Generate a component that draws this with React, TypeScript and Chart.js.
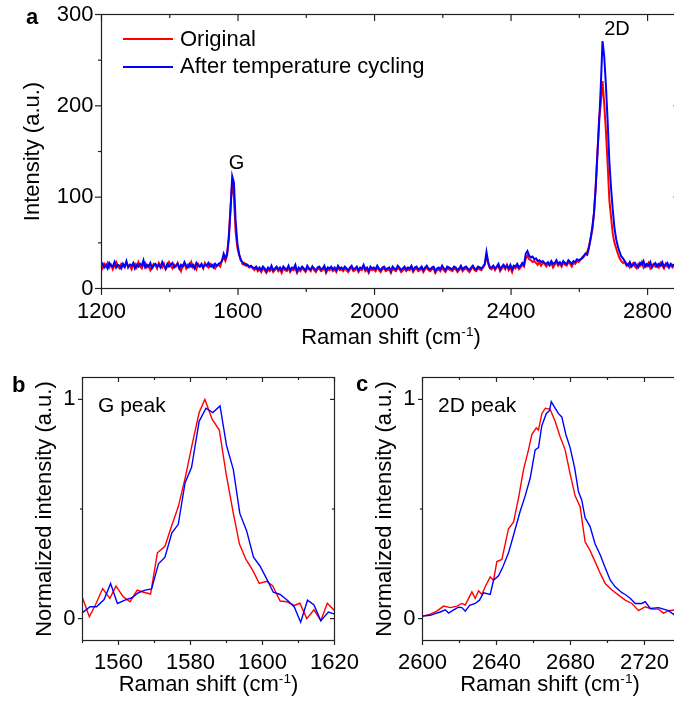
import React, { useEffect, useRef } from "react";
import { Chart, registerables } from "chart.js";

Chart.register(...registerables);

const FONT = '"Liberation Sans", Arial, Helvetica, sans-serif';
const RED = "#ff0000";
const BLUE = "#0000ff";
const AXIS = "#222222";

// ---------------- Panel a : full Raman spectrum ----------------
const A_X_START = 1198; // first sample (cm-1)
const A_X_STEP = 5; // sampling step (cm-1)
const A_X_MAJOR = [1200, 1600, 2000, 2400, 2800];
const A_X_MINOR = [1400, 1800, 2200, 2600];
const A_Y_MAJOR = [0, 100, 200, 300];
const A_Y_MINOR = [50, 150, 250];

// Original (red) – segments in spectral order
const origLowBase = [
  25, 22, 27, 24, 28, 23, 26, 21, 25, 29, 24, 22, 27, 25, 23, 28, 24, 26, 21, 25,
  27, 23, 29, 24, 22, 26, 28, 23, 25, 20, 24, 27, 26, 22, 28, 25, 23, 27, 21, 24,
  29, 25, 22, 26, 24, 28, 23, 19, 25, 27, 22, 26, 24, 29, 23, 25, 21, 27, 24, 26,
  22, 28, 25, 23, 27, 24, 26, 22, 25,
];
const origGBand = [26, 24, 31, 34, 30, 36, 58, 88, 118, 100, 62, 45, 37, 32, 27, 28, 25];
const origMidBase = [
  25, 23, 24, 22, 20, 23, 19, 21, 18, 22, 20, 17, 21, 19, 22, 18, 20, 23, 19, 21,
  17, 22, 20, 19, 23, 18, 21, 20, 22, 17, 21, 19, 23, 20, 18, 22, 21, 19, 24, 20,
  18, 21, 22, 19, 20, 23, 17, 21, 20, 22, 19, 21, 18, 23, 20, 21, 19, 22, 20, 18,
  21, 23, 19, 20, 22, 18, 21, 20, 24, 19, 21, 17, 22, 20, 21, 19, 23, 20, 18, 21,
  22, 19, 20, 21, 17, 22, 20, 19, 23, 21, 18, 20, 22, 19, 21, 20, 23, 18, 21, 22,
  19, 20, 22, 18, 21, 23, 20, 19, 21, 22, 17, 20, 21, 19, 23, 20, 18, 22, 21, 20,
  19, 22, 21, 18, 20, 23, 19, 21, 22, 20, 18, 21, 24, 20, 19, 22, 21, 20, 23,
];
const origSpike = [26, 36, 27, 22];
const origPreBump = [21, 24, 20, 23, 25, 19, 22, 24, 21, 26, 20, 23, 18, 24, 22, 25, 21, 23, 26, 24];
const origBump = [33, 36, 32, 31, 29, 30, 28, 26, 29, 25, 28, 27];
const origPre2D = [24, 27, 25, 28, 23, 26, 29, 25, 27, 24, 28, 26, 25, 29, 27, 24, 28, 27, 30, 29];
const orig2DBand = [
  31, 34, 36, 38, 40, 46, 54, 64, 82, 112, 147, 186, 203, 227, 202, 172, 136, 97, 78, 60,
  50, 44, 38, 33, 30, 28, 29,
];
const origHighBase = [
  25, 27, 23, 26, 28, 24, 22, 27, 25, 29, 23, 26, 24, 28, 22, 25, 27, 24, 26, 23,
  28, 25, 22, 27, 24, 26, 25, 23, 27,
];

// After temperature cycling (blue)
const cycLowBase = [
  24, 27, 23, 26, 22, 28, 25, 24, 29, 23, 26, 25, 22, 27, 24, 30, 23, 26, 25, 28,
  22, 26, 24, 27, 25, 31, 23, 26, 24, 28, 22, 25, 27, 24, 26, 23, 29, 25, 22, 27,
  24, 26, 28, 23, 25, 27, 22, 26, 24, 29, 25, 23, 27, 24, 26, 22, 28, 25, 24, 27,
  23, 26, 25, 28, 24, 26, 23, 27, 25,
];
const cycGBand = [27, 28, 30, 38, 33, 38, 54, 86, 123, 116, 74, 50, 38, 31, 29, 26, 27];
const cycMidBase = [
  26, 24, 25, 23, 22, 24, 21, 23, 20, 24, 22, 19, 23, 21, 25, 20, 22, 24, 21, 23,
  20, 24, 22, 21, 25, 20, 23, 22, 26, 19, 23, 21, 24, 22, 20, 25, 22, 21, 24, 22,
  20, 23, 24, 21, 22, 25, 19, 23, 22, 24, 21, 23, 20, 25, 22, 23, 21, 24, 22, 20,
  23, 25, 21, 22, 24, 20, 23, 22, 26, 21, 23, 19, 24, 22, 23, 21, 25, 22, 20, 23,
  24, 21, 22, 23, 19, 24, 22, 21, 25, 23, 20, 22, 24, 21, 23, 22, 25, 20, 23, 24,
  21, 22, 24, 20, 23, 25, 22, 21, 23, 24, 19, 22, 23, 21, 25, 22, 20, 24, 23, 22,
  21, 24, 23, 20, 22, 25, 21, 23, 24, 22, 20, 23, 25, 22, 21, 24, 23, 22, 24,
];
const cycSpike = [27, 40, 29, 23];
const cycPreBump = [23, 25, 22, 24, 27, 21, 24, 26, 23, 25, 22, 26, 21, 25, 24, 27, 23, 25, 28, 26];
const cycBump = [38, 41, 36, 34, 35, 32, 33, 30, 31, 29, 30, 28];
const cycPre2D = [27, 29, 26, 30, 27, 28, 31, 27, 29, 26, 30, 28, 27, 31, 29, 27, 30, 29, 32, 31];
const cyc2DBand = [
  32, 33, 35, 38, 37, 44, 55, 67, 83, 110, 147, 181, 222, 271, 254, 222, 183, 139, 110, 86,
  66, 54, 46, 40, 35, 33, 30,
];
const cycHighBase = [
  27, 25, 29, 24, 26, 28, 25, 23, 28, 26, 30, 24, 27, 25, 29, 23, 26, 28, 24, 27,
  25, 29, 24, 26, 28, 23, 27, 25, 26,
];

const ORIGINAL_A = [
  ...origLowBase, ...origGBand, ...origMidBase, ...origSpike, ...origPreBump,
  ...origBump, ...origPre2D, ...orig2DBand, ...origHighBase,
];
const CYCLED_A = [
  ...cycLowBase, ...cycGBand, ...cycMidBase, ...cycSpike, ...cycPreBump,
  ...cycBump, ...cycPre2D, ...cyc2DBand, ...cycHighBase,
];

// ---------------- Panel b : G peak (normalized) ----------------
const B_X_MAJOR = [1560, 1580, 1600, 1620];
const B_X_MINOR = [1550, 1570, 1590, 1610];
const NORM_Y_MAJOR = [0, 1];
const NORM_Y_MINOR = [0.5];

const gRedX = [
  1550, 1551.9, 1553.8, 1555.6, 1557.6, 1559.3, 1561.3, 1563.2, 1565.2, 1567,
  1568.9, 1570.8, 1572.9, 1574.7, 1576.6, 1578.5, 1580.4, 1582.4, 1584.0, 1586.0,
  1588.0, 1589.9, 1591.9, 1593.6, 1595.4, 1597.3, 1599.1, 1601.2, 1602.8, 1604.9,
  1606.7, 1608.8, 1610.4, 1612.3, 1614.3, 1616.2, 1618.0, 1620.1,
];
const gRedY = [
  0.095, 0.008, 0.07, 0.137, 0.092, 0.148, 0.1, 0.077, 0.13, 0.12,
  0.112, 0.3, 0.33, 0.42, 0.51, 0.64, 0.79, 0.94, 1.0, 0.91,
  0.86, 0.66, 0.48, 0.34, 0.27, 0.22, 0.16, 0.17, 0.15, 0.08,
  0.077, 0.06, 0.07, 0.0, 0.04, -0.01, 0.07, 0.035,
];
const gBlueX = [
  1550, 1552.1, 1553.9, 1556.0, 1557.8, 1559.7, 1561.8, 1563.7, 1565.5, 1567.4,
  1569.2, 1571.1, 1572.9, 1574.8, 1576.6, 1578.5, 1580.3, 1582.4, 1584.3, 1586.2,
  1588.2, 1590.0, 1591.9, 1593.7, 1595.6, 1597.5, 1599.3, 1601.2, 1603.0, 1604.9,
  1606.9, 1608.8, 1610.6, 1612.5, 1614.3, 1616.2, 1618.3, 1620.1,
];
const gBlueY = [
  0.027, 0.054, 0.054, 0.087, 0.16, 0.069, 0.084, 0.095, 0.118, 0.13,
  0.135, 0.25, 0.28, 0.39, 0.43, 0.62, 0.69, 0.9, 0.96, 0.94,
  0.97, 0.79, 0.68, 0.48, 0.4, 0.28, 0.24, 0.18, 0.12, 0.11,
  0.084, 0.054, -0.017, 0.084, 0.062, -0.01, 0.03, 0.02,
];

// ---------------- Panel c : 2D peak (normalized) ----------------
const C_X_MAJOR = [2600, 2640, 2680, 2720];
const C_X_MINOR = [2620, 2660, 2700];

const d2RedX = [
  2600.2, 2604.2, 2607.8, 2611.4, 2615, 2618.6, 2621.3, 2623.1, 2626.7, 2628.5,
  2630.3, 2632.1, 2633.9, 2636.6, 2638.4, 2640.2, 2642.9, 2646.5, 2649.2, 2651.9,
  2654.6, 2657.3, 2659.1, 2661.5, 2662.7, 2664.5, 2666.4, 2669.0, 2671.7, 2674.4,
  2677.1, 2679.8, 2682.5, 2685.2, 2687.9, 2690.6, 2693.3, 2696.1, 2698.8, 2702.4,
  2706, 2709.6, 2713.2, 2716.8, 2720.4, 2724, 2727.6, 2730.3, 2733, 2737,
];
const d2RedY = [
  0.011, 0.02, 0.034, 0.057, 0.05, 0.057, 0.069, 0.062, 0.122, 0.092,
  0.127, 0.11, 0.145, 0.19, 0.175, 0.26, 0.27, 0.41, 0.44, 0.55,
  0.68, 0.77, 0.84, 0.87, 0.86, 0.935, 0.96, 0.955, 0.9, 0.83,
  0.77, 0.66, 0.56, 0.51, 0.35, 0.31, 0.26, 0.206, 0.16, 0.13,
  0.107, 0.084, 0.069, 0.036, 0.054, 0.043, 0.043, 0.025, 0.036, 0.04,
];
const d2BlueX = [
  2600.2, 2604.2, 2606.9, 2609.6, 2612.3, 2614.1, 2616.8, 2619.5, 2621.3, 2623.1,
  2625.5, 2628.5, 2630.8, 2633, 2636.6, 2638.4, 2641.1, 2643.4, 2646.5, 2649.2,
  2652.8, 2655.5, 2658.2, 2660.9, 2662.7, 2664.5, 2666.9, 2668.7, 2669.6, 2671.7,
  2673.5, 2675.3, 2677.5, 2679.8, 2682.2, 2684.3, 2686.1, 2687.9, 2690.6, 2693.3,
  2696.1, 2698.4, 2701.5, 2704.2, 2707.8, 2709.6, 2712.4, 2715, 2718.6, 2720.4,
  2723.1, 2727.6, 2730.3, 2733, 2737,
];
const d2BlueY = [
  0.011, 0.015, 0.023, 0.03, 0.04, 0.025, 0.04, 0.052, 0.05, 0.034,
  0.06, 0.069, 0.084, 0.118, 0.11, 0.175, 0.195, 0.235, 0.3, 0.38,
  0.49, 0.56, 0.64, 0.77, 0.78, 0.88, 0.935, 0.95, 0.99, 0.96,
  0.935, 0.92, 0.84, 0.78, 0.69, 0.58, 0.54, 0.46, 0.42, 0.34,
  0.29, 0.24, 0.175, 0.145, 0.118, 0.11, 0.092, 0.069, 0.069, 0.077,
  0.046, 0.05, 0.043, 0.036, 0.011,
];

// ---------------- helpers ----------------
type Pt = { x: number; y: number };
const sampled = (ys: number[]): Pt[] => ys.map((y, i) => ({ x: A_X_START + i * A_X_STEP, y }));
const zipXY = (xs: number[], ys: number[]): Pt[] => xs.map((x, i) => ({ x, y: ys[i] }));

interface PanelCfg {
  left: number; top: number; width: number; height: number;
  padTop: number; padRight: number; yAxisWidth: number; xAxisHeight: number;
  xMin: number; xMax: number; yMin: number; yMax: number;
  xMajor: number[]; xMinor: number[]; yMajor: number[]; yMinor: number[];
  yTitle: string; yTitlePad: number; xLabelPad: number; yLabelPad: number;
  lineWidth: number; majorLen: number; minorLen: number;
  red: Pt[]; blue: Pt[];
}

const framePlugin = {
  id: "frameTicks",
  afterDatasetsDraw(chart: any, _args: any, opts: any) {
    const { ctx, chartArea } = chart;
    const { left, right, top, bottom } = chartArea;
    const xs = chart.scales.x;
    const ys = chart.scales.y;
    ctx.save();
    ctx.strokeStyle = AXIS;
    ctx.lineWidth = 1.2;
    ctx.strokeRect(left, top, right - left, bottom - top);
    const seg = (x1: number, y1: number, x2: number, y2: number) => {
      ctx.beginPath();
      ctx.moveTo(x1, y1);
      ctx.lineTo(x2, y2);
      ctx.stroke();
    };
    const xSets: [number[], number][] = [[opts.xMajor, opts.majorLen], [opts.xMinor, opts.minorLen]];
    for (const [vals, len] of xSets) {
      for (const v of vals) {
        const p = xs.getPixelForValue(v);
        if (p < left - 1 || p > right + 1) continue;
        seg(p, bottom, p, bottom + len); // outward
        seg(p, top, p, top + len); // inward (mirror)
      }
    }
    const ySets: [number[], number][] = [[opts.yMajor, opts.majorLen], [opts.yMinor, opts.minorLen]];
    for (const [vals, len] of ySets) {
      for (const v of vals) {
        const p = ys.getPixelForValue(v);
        if (p < top - 1 || p > bottom + 1) continue;
        seg(left - len, p, left, p); // outward
        seg(right - len, p, right, p); // inward (mirror)
      }
    }
    ctx.restore();
  },
};

const ChartPanel: React.FC<{ cfg: PanelCfg }> = ({ cfg }) => {
  const ref = useRef<HTMLCanvasElement | null>(null);
  useEffect(() => {
    if (!ref.current) return;
    const font = { family: FONT, size: 22 };
    const chart = new Chart(ref.current, {
      type: "line",
      data: {
        datasets: [
          {
            label: "Original",
            data: cfg.red,
            borderColor: RED,
            backgroundColor: RED,
            borderWidth: cfg.lineWidth,
            pointRadius: 0,
            tension: 0,
            order: 2,
          },
          {
            label: "After temperature cycling",
            data: cfg.blue,
            borderColor: BLUE,
            backgroundColor: BLUE,
            borderWidth: cfg.lineWidth,
            pointRadius: 0,
            tension: 0,
            order: 1,
          },
        ],
      },
      options: {
        animation: false,
        responsive: false,
        devicePixelRatio: 1,
        events: [],
        layout: {
          autoPadding: false,
          padding: { left: 0, top: cfg.padTop, right: cfg.padRight, bottom: 0 },
        },
        plugins: {
          legend: { display: false },
          tooltip: { enabled: false },
          frameTicks: {
            xMajor: cfg.xMajor, xMinor: cfg.xMinor, yMajor: cfg.yMajor, yMinor: cfg.yMinor,
            majorLen: cfg.majorLen, minorLen: cfg.minorLen,
          },
        } as any,
        scales: {
          x: {
            type: "linear",
            min: cfg.xMin,
            max: cfg.xMax,
            grid: { display: false, drawTicks: false },
            border: { display: false },
            ticks: {
              font, color: "#000", padding: cfg.xLabelPad, autoSkip: false, maxRotation: 0,
              callback: (v: any) => String(v),
            },
            afterBuildTicks: (s: any) => { s.ticks = cfg.xMajor.map((v) => ({ value: v })); },
            afterFit: (s: any) => {
              s.height = cfg.xAxisHeight;
              s.paddingLeft = 0; s.paddingRight = 0; s.paddingTop = 0; s.paddingBottom = 0;
            },
          },
          y: {
            type: "linear",
            min: cfg.yMin,
            max: cfg.yMax,
            grid: { display: false, drawTicks: false },
            border: { display: false },
            title: {
              display: true, text: cfg.yTitle, font, color: "#000",
              padding: { top: cfg.yTitlePad, bottom: 0 },
            },
            ticks: {
              font, color: "#000", padding: cfg.yLabelPad, autoSkip: false,
              callback: (v: any) => String(v),
            },
            afterBuildTicks: (s: any) => { s.ticks = cfg.yMajor.map((v) => ({ value: v })); },
            afterFit: (s: any) => {
              s.width = cfg.yAxisWidth;
              s.paddingLeft = 0; s.paddingRight = 0; s.paddingTop = 0; s.paddingBottom = 0;
            },
          },
        },
      } as any,
      plugins: [framePlugin as any],
    });
    return () => chart.destroy();
  }, [cfg]);
  return (
    <canvas
      ref={ref}
      width={cfg.width}
      height={cfg.height}
      style={{ position: "absolute", left: cfg.left, top: cfg.top, width: cfg.width, height: cfg.height }}
    />
  );
};

const PANEL_A: PanelCfg = {
  left: 0, top: 0, width: 690, height: 350,
  padTop: 14.5, padRight: 10, yAxisWidth: 101.5, xAxisHeight: 61.5,
  xMin: 1200, xMax: 2895, yMin: 0, yMax: 300,
  xMajor: A_X_MAJOR, xMinor: A_X_MINOR, yMajor: A_Y_MAJOR, yMinor: A_Y_MINOR,
  yTitle: "Intensity (a.u.)", yTitlePad: 20, xLabelPad: 10, yLabelPad: 8,
  lineWidth: 2, majorLen: 6.5, minorLen: 3.5,
  red: sampled(ORIGINAL_A), blue: sampled(CYCLED_A),
};

const PANEL_B: PanelCfg = {
  left: 0, top: 350, width: 372, height: 351,
  padTop: 27.5, padRight: 37.5, yAxisWidth: 82.5, xAxisHeight: 60.5,
  xMin: 1550, xMax: 1620, yMin: -0.1, yMax: 1.1,
  xMajor: B_X_MAJOR, xMinor: B_X_MINOR, yMajor: NORM_Y_MAJOR, yMinor: NORM_Y_MINOR,
  yTitle: "Normalized intensity (a.u.)", yTitlePad: 31.5, xLabelPad: 9, yLabelPad: 7,
  lineWidth: 1.4, majorLen: 4.5, minorLen: 2.5,
  red: zipXY(gRedX, gRedY), blue: zipXY(gBlueX, gBlueY),
};

const PANEL_C: PanelCfg = {
  left: 340, top: 350, width: 350, height: 351,
  padTop: 27.5, padRight: 10, yAxisWidth: 82.5, xAxisHeight: 60.5,
  xMin: 2600, xMax: 2739.2, yMin: -0.1, yMax: 1.1,
  xMajor: C_X_MAJOR, xMinor: C_X_MINOR, yMajor: NORM_Y_MAJOR, yMinor: NORM_Y_MINOR,
  yTitle: "Normalized intensity (a.u.)", yTitlePad: 31.5, xLabelPad: 9, yLabelPad: 7,
  lineWidth: 1.4, majorLen: 4.5, minorLen: 2.5,
  red: zipXY(d2RedX, d2RedY), blue: zipXY(d2BlueX, d2BlueY),
};

// text placed by baseline (line-height 1)
const Txt: React.FC<{
  x: number; base: number; size: number; bold?: boolean; center?: boolean; children: React.ReactNode;
}> = ({ x, base, size, bold, center, children }) => (
  <div
    style={{
      position: "absolute",
      left: center ? x - 200 : x,
      width: center ? 400 : undefined,
      textAlign: center ? "center" : "left",
      top: base - 0.8465 * size,
      fontFamily: FONT,
      fontSize: size,
      lineHeight: `${size}px`,
      fontWeight: bold ? 700 : 400,
      color: "#000",
      whiteSpace: "nowrap",
    }}
  >
    {children}
  </div>
);

const Sup: React.FC<{ children: React.ReactNode }> = ({ children }) => (
  <span style={{ fontSize: "0.62em", verticalAlign: "0.62em", lineHeight: 0 }}>{children}</span>
);

const LegendLine: React.FC<{ x: number; y: number; color: string }> = ({ x, y, color }) => (
  <div style={{ position: "absolute", left: x, top: y - 1, width: 50, height: 2, background: color }} />
);

export default function App() {
  return (
    <div
      style={{
        position: "fixed", left: 0, top: 0, width: 674, height: 701,
        overflow: "hidden", background: "#fff",
      }}
    >
      <ChartPanel cfg={PANEL_A} />
      <ChartPanel cfg={PANEL_B} />
      <ChartPanel cfg={PANEL_C} />

      {/* panel a annotations */}
      <Txt x={26} base={25} size={22} bold>a</Txt>
      <LegendLine x={123} y={39} color={RED} />
      <Txt x={180} base={46.7} size={22}>Original</Txt>
      <LegendLine x={123} y={66.7} color={BLUE} />
      <Txt x={180} base={73.3} size={22}>After temperature cycling</Txt>
      <Txt x={236.5} base={169} size={20} center>G</Txt>
      <Txt x={617} base={35} size={20} center>2D</Txt>
      <Txt x={391} base={345} size={22} center>
        Raman shift (cm<Sup>-1</Sup>)
      </Txt>

      {/* panel b annotations */}
      <Txt x={12} base={393} size={22} bold>b</Txt>
      <Txt x={98} base={411.7} size={21}>G peak</Txt>
      <Txt x={208.5} base={692} size={22} center>
        Raman shift (cm<Sup>-1</Sup>)
      </Txt>

      {/* panel c annotations */}
      <Txt x={356} base={392} size={22} bold>c</Txt>
      <Txt x={438} base={411.7} size={21}>2D peak</Txt>
      <Txt x={550} base={692} size={22} center>
        Raman shift (cm<Sup>-1</Sup>)
      </Txt>
    </div>
  );
}
